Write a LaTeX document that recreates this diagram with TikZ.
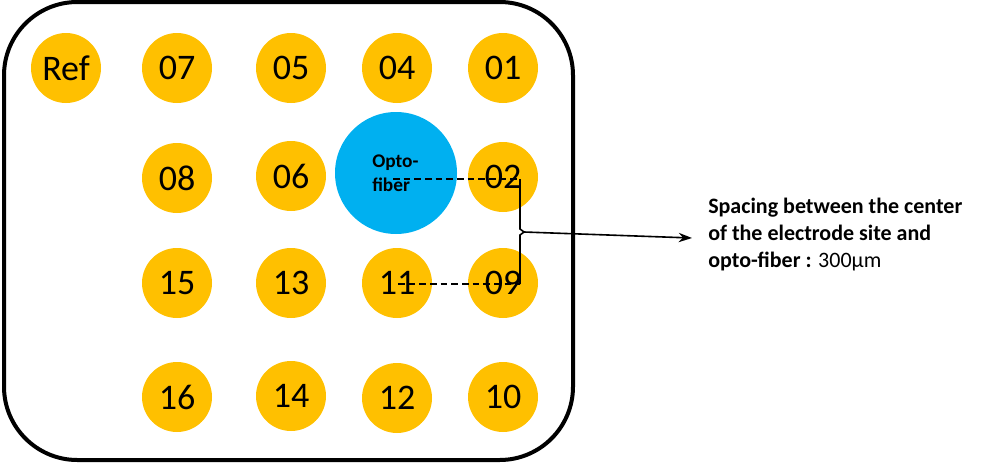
\documentclass[tikz,border=0pt]{standalone}
\usepackage{fontspec}
\setmainfont{Carlito}
\usetikzlibrary{arrows.meta}
\definecolor{gold}{HTML}{FFC000}
\definecolor{sky}{HTML}{00B0F0}
\begin{document}
\begin{tikzpicture}[x=0.75pt,y=-0.75pt,
  site/.style={circle,fill=gold,minimum size=52.5pt,inner sep=0pt,
    font=\fontsize{27}{30}\selectfont},
  dashline/.style={dash pattern=on 5pt off 3pt,line width=1.2pt},
  solidline/.style={line width=1.2pt}]
\useasboundingbox (0,0) rectangle (1006,464);
\draw[line width=3pt,rounded corners=55pt] (4,2) rectangle (573,460);
% row 1
\node[site] (ref) at (66,68) {Ref};
\node[site] (s07) at (177,68) {07};
\node[site] (s05) at (291,68) {05};
\node[site] (s04) at (397,68) {04};
\node[site] (s01) at (503,68) {01};
% row 2
\node[site] (s08) at (177,178) {08};
\node[site] (s06) at (291,176) {06};
\node[circle,fill=sky,minimum size=91.5pt,inner sep=0pt] (opto) at (396,173) {};
\node[site] (s02) at (503,177) {02};
% row 3
\node[site] (s15) at (177,283) {15};
\node[site] (s13) at (291,283) {13};
\node[site] (s11) at (397,283) {11};
\node[site] (s09) at (503,283) {09};
% row 4
\node[site] (s16) at (177,397) {16};
\node[site] (s14) at (291,396) {14};
\node[site] (s12) at (397,398) {12};
\node[site] (s10) at (503,397) {10};
% opto text
\node[anchor=north west,inner sep=0pt,align=left,
  font=\fontsize{14.5}{18}\selectfont\bfseries] (optotext) at (372,155) {Opto-\\fiber};
% dashed spacing lines and bracket
\coordinate (top) at (520,179);
\coordinate (bot) at (520,284);
\coordinate (mid) at (524,232);
\coordinate (optoc) at (393,179);
\coordinate (c11) at (398,284);
\draw[dashline] (optoc) -- (top);
\draw[dashline] (c11) -- (bot);
\draw[solidline] (top) -- (520,229) -- (mid) -- (520,235) -- (bot);
\node[anchor=north west,inner sep=0pt,align=left,
  font=\fontsize{16.5}{20.25}\selectfont] (label) at (708,198)
  {\textbf{Spacing between the center}\\\textbf{of the electrode site and}\\\textbf{opto-fiber :} 300µm};
\coordinate (tip) at (692,238);
\draw[solidline,-{Stealth[length=10pt,width=7pt]}] (mid) -- (tip);
\end{tikzpicture}
\end{document}
